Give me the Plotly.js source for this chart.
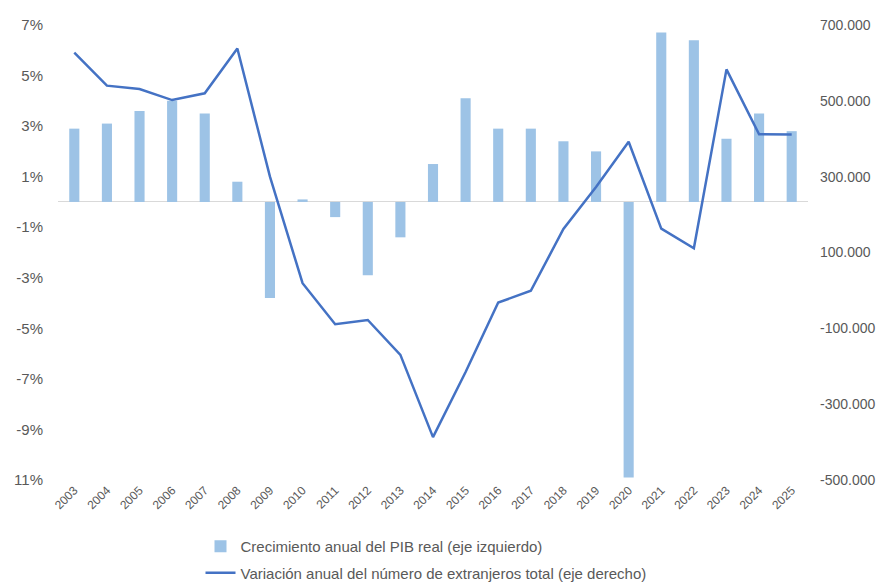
<!DOCTYPE html>
<html>
<head>
<meta charset="utf-8">
<script src="https://cdn.plot.ly/plotly-3.0.1.min.js"></script>
<style>body{margin:0;background:#fff}#chart{width:880px;height:585px}</style>
</head>
<body>
<div id="chart"></div>
<script>
const years = ['2003','2004','2005','2006','2007','2008','2009','2010','2011','2012','2013','2014','2015','2016','2017','2018','2019','2020','2021','2022','2023','2024','2025'];
const gdpGrowth = [2.9, 3.1, 3.6, 4.0, 3.5, 0.8, -3.8, 0.1, -0.6, -2.9, -1.4, 1.5, 4.1, 2.9, 2.9, 2.4, 2.0, -10.9, 6.7, 6.4, 2.5, 3.5, 2.8];
const foreignersChange = [627000, 540000, 531000, 502000, 520000, 638000, 300000, 19000, -89000, -78000, -170000, -387000, -215000, -32000, -1000, 162000, 273000, 392000, 163000, 111000, 583000, 412000, 411000];
const leftTickVals = [7, 5, 3, 1, -1, -3, -5, -7, -9, -11];
const leftTickText = ['7%', '5%', '3%', '1%', '-1%', '-3%', '-5%', '-7%', '-9%', '11%'];
const rightTickVals = [700000, 500000, 300000, 100000, -100000, -300000, -500000];
const rightTickText = ['700.000', '500.000', '300.000', '100.000', '-100.000', '-300.000', '-500.000'];
const seriesNames = ['Crecimiento anual del PIB real (eje izquierdo)', 'Variación anual del número de extranjeros total (eje derecho)'];

const txt = '#595959';
const fam = 'Liberation Sans, Arial, sans-serif';

const traces = [
  {type: 'bar', x: years, y: gdpGrowth, name: seriesNames[0], legendgroup: 'a', marker: {color: '#9DC3E6'}, yaxis: 'y'},
  {type: 'scatter', mode: 'lines', x: years, y: foreignersChange, name: seriesNames[1], legendgroup: 'b', line: {color: '#4472C4', width: 2.5}, yaxis: 'y2'}
];

const layout = {
  width: 880, height: 585,
  margin: {l: 58, r: 72, t: 25, b: 105, autoexpand: false},
  paper_bgcolor: '#fff', plot_bgcolor: '#fff',
  font: {family: fam, color: txt, size: 15},
  bargap: 0.69,
  showlegend: true,
  xaxis: {
    type: 'category', tickmode: 'array', tickvals: years, ticktext: years, tickangle: -45,
    showgrid: false, showline: false, ticks: '',
    tickfont: {size: 12, color: txt}, automargin: false
  },
  yaxis: {
    range: [-11, 7], tickvals: leftTickVals, ticktext: leftTickText,
    showgrid: false, zeroline: true, zerolinecolor: '#D9D9D9', zerolinewidth: 1,
    showline: false, ticks: '', tickfont: {size: 15, color: txt}, automargin: false, ticklabelstandoff: 14
  },
  yaxis2: {
    overlaying: 'y', side: 'right', range: [-500000, 700000],
    tickvals: rightTickVals, ticktext: rightTickText,
    showgrid: false, zeroline: false, showline: false, ticks: '',
    tickfont: {size: 14, color: txt}, automargin: false, ticklabelstandoff: 11
  },
  legend: {
    orientation: 'v', x: 0.19, y: -0.11, xanchor: 'left', yanchor: 'top',
    font: {size: 15, color: txt}, tracegroupgap: 4, itemwidth: 30, bgcolor: 'rgba(0,0,0,0)'
  }
};

Plotly.newPlot('chart', traces, layout, {displayModeBar: false, staticPlot: true});
</script>
</body>
</html>
